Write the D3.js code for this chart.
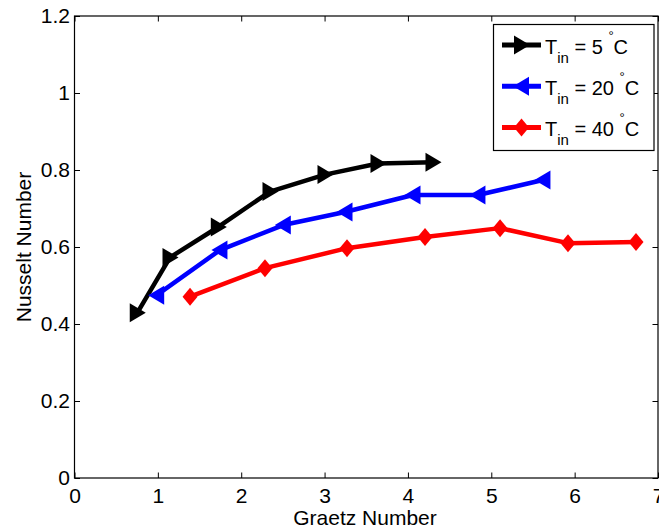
<!DOCTYPE html>
<html>
<head>
<meta charset="utf-8">
<script src="https://cdn.jsdelivr.net/npm/d3@7"></script>
<style>
  html, body { margin: 0; padding: 0; background: #fff; }
  svg { display: block; }
  text { font-family: "Liberation Sans", Arial, sans-serif; fill: #000; }
</style>
</head>
<body>
<svg id="chart" width="659" height="528"></svg>
<script>
// Graetz number (x) and Nusselt number (y) for three inlet temperatures
const gzT5  = [0.753, 1.146, 1.725, 2.345, 3.005, 3.641, 4.301];
const nuT5  = [0.429, 0.573, 0.652, 0.744, 0.788, 0.817, 0.820];
const gzT20 = [0.986, 1.745, 2.505, 3.245, 4.061, 4.840, 5.620];
const nuT20 = [0.475, 0.592, 0.657, 0.691, 0.735, 0.735, 0.774];
const gzT40 = [1.386, 2.285, 3.269, 4.205, 5.105, 5.920, 6.736];
const nuT40 = [0.471, 0.545, 0.597, 0.626, 0.649, 0.610, 0.613];

const seriesTemps  = ["5", "20", "40"];
const seriesColors = ["#000000", "#0000ff", "#ff0000"];
const seriesMarker = ["tri-right", "tri-left", "diamond"];

const xTicks = [0, 1, 2, 3, 4, 5, 6, 7];
const yTicks = [0, 0.2, 0.4, 0.6, 0.8, 1, 1.2];

const xLabel = "Graetz Number";
const yLabel = "Nusselt Number";

const series = [
  { gz: gzT5,  nu: nuT5  },
  { gz: gzT20, nu: nuT20 },
  { gz: gzT40, nu: nuT40 }
].map((s, i) => ({
  temp: seriesTemps[i],
  color: seriesColors[i],
  marker: seriesMarker[i],
  points: s.gz.map((g, j) => ({ x: g, y: s.nu[j] }))
}));

const plot = { left: 74.5, right: 658, top: 16, bottom: 478 };
const fontSize = 21;

const svg = d3.select("#chart");
const x = d3.scaleLinear().domain([0, 7]).range([plot.left, plot.right]);
const y = d3.scaleLinear().domain([0, 1.2]).range([plot.bottom, plot.top]);

const markerPath = {
  "tri-right": "M-7.5,-9.5L-7.5,9.5L8.5,0Z",
  "tri-left":  "M7.5,-9.5L7.5,9.5L-8.5,0Z",
  "diamond":   "M0,-9L7.5,0L0,9L-7.5,0Z"
};

// frame
svg.append("rect")
  .attr("x", plot.left).attr("y", plot.top)
  .attr("width", plot.right - plot.left).attr("height", plot.bottom - plot.top)
  .attr("fill", "#fff").attr("stroke", "#000").attr("stroke-width", 1.2);

// inward ticks on all four sides
const tickLen = 5.5;
const fmtX = d3.format("d");
const fmtY = v => String(v);

const bottomAxis = d3.axisBottom(x).tickValues(xTicks).tickSize(-tickLen).tickFormat(fmtX).tickPadding(10);
const topAxis    = d3.axisTop(x).tickValues(xTicks).tickSize(-tickLen).tickFormat("");
const leftAxis   = d3.axisLeft(y).tickValues(yTicks).tickSize(-tickLen).tickFormat(fmtY).tickPadding(4.5);
const rightAxis  = d3.axisRight(y).tickValues(yTicks).tickSize(-tickLen).tickFormat("");

function styleAxis(g) {
  g.select(".domain").remove();
  g.selectAll(".tick line").attr("stroke", "#000").attr("stroke-width", 1);
  g.selectAll(".tick text")
    .attr("fill", "#000")
    .style("font-family", "'Liberation Sans', Arial, sans-serif")
    .style("font-size", fontSize + "px");
}

svg.append("g").attr("transform", `translate(0,${plot.bottom})`).call(bottomAxis).call(styleAxis)
  .selectAll(".tick text").attr("dy", "0.71em");
svg.append("g").attr("transform", `translate(0,${plot.top})`).call(topAxis).call(styleAxis);
svg.append("g").attr("transform", `translate(${plot.left},0)`).call(leftAxis).call(styleAxis);
svg.append("g").attr("transform", `translate(${plot.right},0)`).call(rightAxis).call(styleAxis);

// axis titles
svg.append("text")
  .attr("x", 365).attr("y", 525)
  .attr("text-anchor", "middle").style("font-size", fontSize + "px")
  .text(xLabel);
svg.append("text")
  .attr("transform", `translate(31,${(plot.top + plot.bottom) / 2}) rotate(-90)`)
  .attr("text-anchor", "middle").style("font-size", fontSize + "px")
  .text(yLabel);

// series
const line = d3.line().x(d => x(d.x)).y(d => y(d.y));
series.forEach(s => {
  const g = svg.append("g");
  g.append("path")
    .attr("d", line(s.points))
    .attr("fill", "none").attr("stroke", s.color)
    .attr("stroke-width", 4.5).attr("stroke-linejoin", "round").attr("stroke-linecap", "butt");
  g.selectAll("path.mk").data(s.points).join("path")
    .attr("class", "mk")
    .attr("d", markerPath[s.marker])
    .attr("transform", d => `translate(${x(d.x)},${y(d.y)})`)
    .attr("fill", s.color);
});

// legend
const legend = svg.append("g");
legend.append("rect")
  .attr("x", 493.5).attr("y", 24.5).attr("width", 160.5).attr("height", 126)
  .attr("fill", "#fff").attr("stroke", "#000").attr("stroke-width", 1.2);

series.forEach((s, i) => {
  const cy = 45 + i * 41.2;
  legend.append("line")
    .attr("x1", 502).attr("x2", 541).attr("y1", cy).attr("y2", cy)
    .attr("stroke", s.color).attr("stroke-width", 5);
  legend.append("path")
    .attr("d", markerPath[s.marker])
    .attr("transform", `translate(521.5,${cy})`)
    .attr("fill", s.color);

  const t = legend.append("text")
    .attr("x", 545).attr("y", cy + 8.5)
    .style("font-size", "20px");
  t.append("tspan").text("T");
  t.append("tspan").attr("dy", 9).style("font-size", "15px").text("in");
  t.append("tspan").attr("dy", -9).text(" = " + s.temp + " ");
  t.append("tspan").attr("dy", -14).style("font-size", "13px").text("\u00B0");
  t.append("tspan").attr("dy", 14).text("C");
});
</script>
</body>
</html>
